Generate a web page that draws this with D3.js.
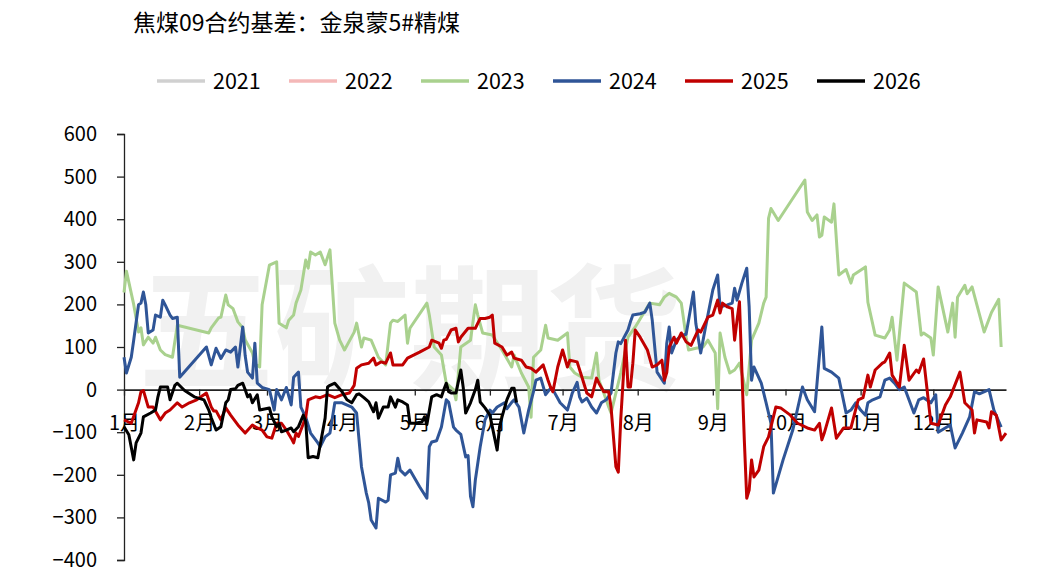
<!DOCTYPE html>
<html>
<head>
<meta charset="utf-8">
<script src="https://cdnjs.cloudflare.com/ajax/libs/d3/7.8.5/d3.min.js"></script>
</head>
<body style="margin: 0; background: #fff;">
<script>
// 焦煤09合约基差：金泉蒙5#精煤 —— values
var title = "焦煤09合约基差：金泉蒙5#精煤";
var years = ["2021", "2022", "2023", "2024", "2025", "2026"];
var colors = ["#d0d0d0", "#f4b8b8", "#a9d18e", "#2f5597", "#c00000", "#000000"];
var yTicks = [-400, -300, -200, -100, 0, 100, 200, 300, 400, 500, 600];
var monthLabels = ["1月","2月","3月","4月","5月","6月","7月","8月","9月","10月","11月","12月"];

var s2021 = [];
var s2022 = [];
var s2023 = [
  ["01-01",228],["01-02",278],["01-05",200],["01-07",135],["01-08",145],["01-09",105],["01-11",123],
  ["01-13",109],["01-14",123],["01-16",93],["01-18",82],["01-21",76],["01-23",151],["02-05",133],
  ["02-06",145],["02-09",168],["02-10",170],["02-12",222],["02-13",199],["02-15",190],["02-17",159],
  ["02-19",145],["02-20",117],["02-23",86],["02-24",60],["02-26",53],["02-27",199],["03-02",292],
  ["03-05",300],["03-06",156],["03-09",145],["03-10",163],["03-12",175],["03-13",203],["03-15",234],
  ["03-17",304],["03-18",285],["03-19",323],["03-21",316],["03-23",323],["03-25",293],["03-27",328],
  ["03-29",156],["03-31",116],["04-02",93],["04-06",135],["04-07",156],["04-09",100],["04-10",121],
  ["04-13",116],["04-16",76],["04-19",58],["04-21",156],["04-22",163],["04-24",160],["04-27",175],
  ["04-28",109],["04-29",144],["05-06",203],["05-07",175],["05-09",100],["05-12",81],["05-14",15],
  ["05-17",0],["05-18",-24],["05-20",100],["05-24",116],["05-26",199],["05-27",175],["05-29",133],
  ["06-02",128],["06-06",93],["06-10",53],["06-11",81],["06-14",39],["06-17",6],["06-18",-65],
  ["06-19",76],["06-22",93],["06-24",151],["06-25",121],["06-29",116],["07-03",133],["07-04",53],
  ["07-06",39],["07-09",29],["07-13",27],["07-15",86],["07-16",22],["07-18",-8],["07-20",-40],
  ["07-21",-55],["07-25",39],["07-28",123],["07-31",147],["08-03",175],["08-06",203],["08-10",199],
  ["08-12",217],["08-14",226],["08-17",217],["08-19",203],["08-21",123],["08-22",93],["08-25",97],
  ["08-28",100],["08-30",116],["09-02",86],["09-03",-45],["09-04",133],["09-06",76],["09-08",39],
  ["09-10",46],["09-12",62],["09-15",-12],["09-17",116],["09-20",156],["09-22",203],["09-23",217],
  ["09-24",402],["09-25",425],["09-28",397],["10-09",492],["10-10",417],["10-12",397],["10-14",410],
  ["10-15",358],["10-16",362],["10-17",405],["10-20",393],["10-21",436],["10-23",269],["10-26",282],
  ["10-28",250],["10-29",269],["11-03",288],["11-04",205],["11-07",128],["11-11",121],["11-13",140],
  ["11-14",170],["11-16",69],["11-19",250],["11-24",229],["11-26",128],["11-27",133],["11-30",121],
  ["12-01",81],["12-03",241],["12-07",135],["12-09",203],["12-10",123],["12-11",217],["12-14",245],
  ["12-15",225],["12-17",241],["12-22",135],["12-25",181],["12-28",212],["12-29",100]
];
var s2024 = [
  ["01-01",76],["01-02",39],["01-04",76],["01-05",116],["01-07",199],["01-08",203],["01-09",229],
  ["01-10",199],["01-11",133],["01-13",140],["01-14",175],["01-16",170],["01-17",210],["01-18",199],
  ["01-20",175],["01-21",167],["01-23",170],["01-24",29],["02-04",100],["02-06",58],["02-08",97],
  ["02-10",73],["02-12",93],["02-14",88],["02-16",100],["02-17",53],["02-19",147],["02-20",80],
  ["02-21",41],["02-23",27],["02-24",109],["02-25",15],["02-27",5],["03-02",0],["03-04",-48],
  ["03-05",0],["03-07",-24],["03-09",5],["03-11",-36],["03-12",29],["03-14",41],["03-15",-41],
  ["03-17",-65],["03-19",-102],["03-22",-125],["03-23",-134],["03-25",-111],["03-27",-102],
  ["03-29",-31],["04-01",-31],["04-05",-41],["04-07",-55],["04-09",-181],["04-11",-243],["04-12",-266],
  ["04-13",-306],["04-15",-325],["04-16",-255],["04-19",-264],["04-20",-260],["04-21",-200],
  ["04-23",-196],["04-24",-161],["04-25",-189],["04-27",-200],["04-29",-189],["05-03",-228],
  ["05-06",-255],["05-07",-134],["05-08",-123],["05-10",-120],["05-12",-88],["05-14",-24],["05-15",-30],
  ["05-17",-88],["05-18",-95],["05-20",-105],["05-22",-158],["05-23",-155],["05-24",-251],["05-25",-275],
  ["05-26",-212],["05-28",-134],["05-30",-71],["06-01",-48],["06-02",-55],["06-04",-41],["06-07",-31],
  ["06-08",-45],["06-10",-30],["06-11",-24],["06-13",-41],["06-15",-102],["06-17",-48],["06-19",-5],
  ["06-20",22],["06-22",27],["06-24",-12],["06-26",3],["06-27",0],["06-30",-31],["07-03",-48],
  ["07-05",-8],["07-07",17],["07-08",-17],["07-09",-29],["07-11",-20],["07-13",-41],["07-15",-55],
  ["07-17",-31],["07-19",-24],["07-21",-8],["07-23",86],["07-24",112],["07-25",108],["07-28",140],
  ["07-29",159],["07-30",175],["08-02",178],["08-04",182],["08-06",203],["08-07",163],["08-09",41],
  ["08-12",15],["08-13",109],["08-14",147],["08-15",86],["08-17",116],["08-19",127],["08-21",130],
  ["08-24",229],["08-25",155],["08-27",86],["08-29",147],["09-01",234],["09-03",269],["09-04",194],
  ["09-07",199],["09-09",203],["09-10",238],["09-11",210],["09-13",250],["09-15",285],["09-16",194],
  ["09-17",22],["09-18",53],["09-21",15],["09-23",-31],["09-25",-79],["09-26",-243],["09-30",-165],
  ["10-04",-95],["10-08",6],["10-10",-24],["10-13",-52],["10-16",147],["10-17",50],["10-20",41],
  ["10-23",27],["10-26",-55],["10-28",-48],["10-30",-31],["11-01",-48],["11-03",-60],["11-04",-31],
  ["11-06",-24],["11-09",-17],["11-11",22],["11-13",27],["11-15",15],["11-17",0],["11-19",6],
  ["11-23",-55],["11-25",-24],["11-27",-19],["11-30",-31],["12-02",-12],["12-03",-100],["12-08",-83],
  ["12-10",-137],["12-13",-102],["12-16",-64],["12-18",-5],["12-20",-10],["12-24",0],["12-26",-48],
  ["12-29",-88]
];
var s2025 = [
  ["01-01",-71],["01-04",-79],["01-07",-31],["01-08",-5],["01-09",-2],["01-11",-41],["01-13",-41],
  ["01-16",-71],["01-18",-55],["01-20",-48],["01-23",-31],["01-25",-41],["01-28",-31],["01-31",-24],
  ["02-04",-8],["02-06",-41],["02-07",-50],["02-08",-50],["02-10",-71],["02-12",-43],["02-14",-60],
  ["02-17",-83],["02-20",-102],["02-23",-83],["02-25",-90],["02-27",-95],["03-01",-111],["03-03",-114],
  ["03-05",-79],["03-07",-79],["03-09",-95],["03-11",-114],["03-12",-125],["03-13",-102],["03-14",-110],
  ["03-17",-65],["03-18",-24],["03-21",-17],["03-23",-19],["03-26",-12],["03-29",-19],["04-01",-12],
  ["04-04",-8],["04-06",10],["04-07",50],["04-09",58],["04-12",62],["04-14",74],["04-15",58],
  ["04-17",65],["04-19",62],["04-21",86],["04-22",58],["04-26",58],["04-28",74],["05-03",88],
  ["05-07",100],["05-08",116],["05-11",109],["05-12",97],["05-13",116],["05-14",118],["05-16",140],
  ["05-18",144],["05-19",112],["05-20",123],["05-23",144],["05-26",144],["05-28",167],["05-30",167],
  ["06-01",170],["06-02",175],["06-03",109],["06-06",100],["06-08",81],["06-10",88],["06-11",74],
  ["06-14",69],["06-16",53],["06-18",50],["06-20",41],["06-23",58],["06-25",22],["06-26",6],
  ["06-27",-5],["06-29",53],["07-01",93],["07-03",53],["07-04",69],["07-07",65],["07-09",29],
  ["07-11",-8],["07-13",-17],["07-15",27],["07-16",15],["07-18",-5],["07-20",-5],["07-21",-41],
  ["07-23",-181],["07-24",-194],["07-25",-71],["07-27",116],["07-28",6],["07-29",6],["07-30",62],
  ["07-31",140],["08-02",123],["08-05",93],["08-07",53],["08-09",58],["08-11",69],["08-12",22],
  ["08-13",40],["08-14",100],["08-16",123],["08-17",109],["08-19",133],["08-21",112],["08-23",104],
  ["08-26",140],["08-27",135],["08-30",170],["09-01",175],["09-03",210],["09-04",180],["09-05",203],
  ["09-07",194],["09-09",190],["09-10",116],["09-11",163],["09-12",206],["09-14",-118],["09-15",-255],
  ["09-16",-236],["09-17",-165],["09-18",-205],["09-20",-189],["09-22",-134],["09-24",-111],
  ["09-27",-41],["09-29",-43],["10-03",-60],["10-06",-79],["10-10",-90],["10-13",-95],["10-15",-79],
  ["10-16",-118],["10-17",-102],["10-20",-43],["10-22",-114],["10-25",-90],["10-28",-90],["10-31",-24],
  ["11-02",-19],["11-04",34],["11-05",6],["11-07",46],["11-10",62],["11-11",65],["11-13",86],
  ["11-14",34],["11-17",6],["11-19",104],["11-21",22],["11-24",46],["11-25",40],["11-27",72],
  ["11-30",-79],["12-03",-83],["12-06",-36],["12-08",-17],["12-12",41],["12-14",-31],["12-17",-48],
  ["12-18",-102],["12-19",-71],["12-23",-76],["12-24",-90],["12-25",-52],["12-27",-60],["12-29",-118],
  ["12-31",-102]
];
var s2026 = [
  ["01-01",-87],["01-03",-106],["01-05",-165],["01-06",-125],["01-08",-102],["01-09",-64],["01-12",-55],
  ["01-14",-48],["01-15",-17],["01-16",6],["01-19",6],["01-20",-24],["01-22",10],["01-23",15],
  ["01-26",-2],["01-30",-17],["02-03",-24],["02-05",-48],["02-06",-66],["02-08",-95],["02-10",-87],
  ["02-12",-31],["02-13",-24],["02-14",0],["02-16",2],["02-17",10],["02-19",15],["02-20",0],
  ["02-21",-17],["02-22",-12],["02-23",-31],["02-25",-12],["02-26",-48],["03-02",-43],["03-03",-64],
  ["03-05",-87],["03-06",-80],["03-07",-99],["03-09",-95],["03-11",-90],["03-12",-99],["03-14",-87],
  ["03-16",-60],["03-17",-75],["03-18",-160],["03-20",-157],["03-22",-160],["03-25",-67],["03-26",6],
  ["03-27",10],["03-29",15],["04-01",-5],["04-03",-24],["04-05",-31],["04-07",-12],["04-08",-10],
  ["04-10",-19],["04-12",-29],["04-14",-52],["04-15",-31],["04-16",-67],["04-18",-41],["04-20",-41],
  ["04-21",-17],["04-23",-41],["04-24",-24],["04-26",-29],["04-28",-36],["04-29",-79],["05-01",-79],
  ["05-04",-76],["05-05",-64],["05-06",-82],["05-08",-17],["05-10",-12],["05-12",-17],["05-13",0],
  ["05-14",15],["05-15",-5],["05-16",-8],["05-18",-8],["05-20",46],["05-21",5],["05-22",-55],
  ["05-24",-31],["05-26",0],["05-27",22],["05-28",-29],["05-30",-43],["06-01",-60],["06-04",-142],
  ["06-05",-87],["06-06",-64],["06-08",-24],["06-10",3],["06-11",3],["06-12",-30]
];
var seriesList = [s2021, s2022, s2023, s2024, s2025, s2026];

var width = 1059, height = 570;
var font = "'Noto Sans CJK SC', 'Noto Sans', sans-serif";
var parse = d3.timeParse("%Y-%m-%d");

var svg = d3.select("body").append("svg")
  .attr("width", width).attr("height", height)
  .style("display", "block")
  .style("font-family", font);

var x = d3.scaleTime()
  .domain([parse("2021-01-01"), parse("2021-12-31")])
  .range([124, 1006]);
var y = d3.scaleLinear().domain([-400, 600]).range([560, 134]);

// watermark
svg.append("text")
  .attr("x", 138).attr("y", 380)
  .attr("font-size", 136).attr("font-weight", "bold")
  .attr("fill", "#f1f1f1")
  .text("五矿期货");

// title
svg.append("text")
  .attr("x", 133).attr("y", 31)
  .attr("font-size", 23)
  .attr("fill", "#000")
  .text(title);

// legend
var legend = svg.append("g").selectAll("g")
  .data(years).enter().append("g")
  .attr("transform", function(d, i) { return "translate(" + (157 + i * 132) + ",81)"; });
legend.append("line")
  .attr("x1", 0).attr("x2", 48)
  .attr("stroke", function(d, i) { return colors[i]; })
  .attr("stroke-width", 3.5);
legend.append("text")
  .attr("x", 56).attr("y", 8)
  .attr("font-size", 21.5)
  .text(function(d) { return d; });

// y axis
var yAxis = svg.append("g")
  .attr("transform", "translate(124,0)")
  .call(d3.axisLeft(y).tickValues(yTicks).tickSize(7).tickPadding(20).tickFormat(d3.format("d")));
yAxis.select(".domain").attr("stroke", "#222").attr("stroke-width", 1.3);
yAxis.selectAll(".tick line").attr("stroke", "#222").attr("stroke-width", 1.3);
yAxis.selectAll("text").attr("font-size", 20).attr("font-family", font).attr("fill", "#000");

// x axis on zero line
var months = d3.timeMonths(parse("2021-01-01"), parse("2021-12-31"));
var xAxis = svg.append("g")
  .attr("transform", "translate(0," + y(0) + ")")
  .call(d3.axisBottom(x).tickValues(months).tickSize(6).tickSizeOuter(0).tickPadding(20)
    .tickFormat(function(d, i) { return monthLabels[i]; }));
xAxis.select(".domain").attr("stroke", "#222").attr("stroke-width", 1.6);
xAxis.selectAll(".tick line").attr("stroke", "#222").attr("stroke-width", 1.3);
xAxis.selectAll("text").attr("font-size", 20).attr("font-family", font).attr("fill", "#000");

// lines
var line = d3.line()
  .x(function(d) { return x(parse("2021-" + d[0])); })
  .y(function(d) { return y(d[1]); });

svg.append("g").selectAll("path")
  .data(seriesList).enter().append("path")
  .attr("d", function(d) { return d.length ? line(d) : null; })
  .attr("fill", "none")
  .attr("stroke", function(d, i) { return colors[i]; })
  .attr("stroke-width", 3)
  .attr("stroke-linejoin", "round");
</script>
</body>
</html>
